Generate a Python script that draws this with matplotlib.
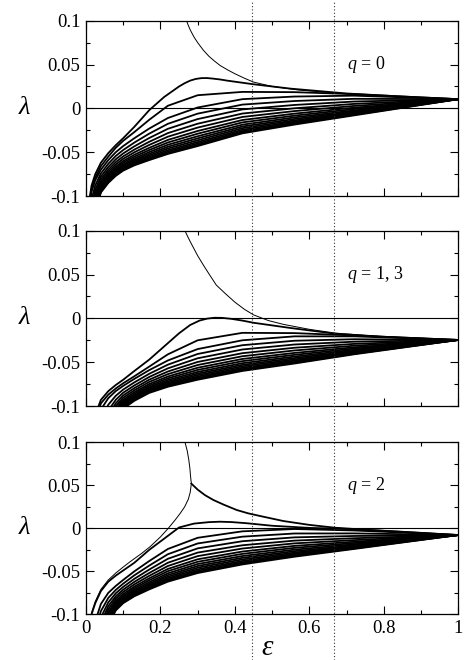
import matplotlib
matplotlib.use('Agg')
import matplotlib.pyplot as plt
import matplotlib.transforms as mtransforms
from matplotlib import rcParams
from matplotlib.lines import Line2D
from matplotlib.ticker import MultipleLocator

# ----- fonts -----
rcParams['font.family'] = ['Liberation Serif', 'DejaVu Serif']
rcParams['mathtext.fontset'] = 'custom'
rcParams['mathtext.rm'] = 'Liberation Serif'
rcParams['mathtext.it'] = 'Liberation Serif:italic'

# ----- data -----
# common epsilon grid for the bundle curves
eps_grid = [0.005, 0.015, 0.025, 0.04, 0.06, 0.08, 0.1, 0.13, 0.17, 0.22, 0.3, 0.42, 0.56, 0.72, 1.0]

# q = 0 : monotone bundle, top to bottom
bundle_q0 = [
    [-0.12, -0.092, -0.079, -0.066, -0.055, -0.045, -0.037, -0.027, -0.013, 0.003, 0.015, 0.0188, 0.0185, 0.0162, 0.0105],
    [-0.125, -0.095, -0.082, -0.070, -0.059, -0.050, -0.043, -0.034, -0.023, -0.011, 0.001, 0.0105, 0.0135, 0.0145, 0.0105],
    [-0.137, -0.1038, -0.0878, -0.0742, -0.0632, -0.0543, -0.0475, -0.039, -0.0288, -0.0176, -0.006, 0.0043, 0.0084, 0.0109, 0.0105],
    [-0.1475, -0.1115, -0.0928, -0.0778, -0.0668, -0.0581, -0.0514, -0.0433, -0.0338, -0.0233, -0.0122, -0.0012, 0.0039, 0.0078, 0.0105],
    [-0.1565, -0.1181, -0.0971, -0.0809, -0.0699, -0.0613, -0.0548, -0.047, -0.0381, -0.0282, -0.0175, -0.0059, 0.0001, 0.0051, 0.0105],
    [-0.164, -0.1236, -0.1007, -0.0835, -0.0725, -0.064, -0.0576, -0.0501, -0.0417, -0.0323, -0.0219, -0.0098, -0.0031, 0.0028, 0.0105],
    [-0.1707, -0.1285, -0.104, -0.0859, -0.0749, -0.0665, -0.0601, -0.0529, -0.045, -0.036, -0.0258, -0.0133, -0.006, 0.0008, 0.0105],
    [-0.176, -0.1324, -0.1065, -0.0877, -0.0767, -0.0684, -0.062, -0.0551, -0.0475, -0.0389, -0.0289, -0.016, -0.0083, -0.0008, 0.0105],
    [-0.1809, -0.136, -0.1088, -0.0894, -0.0784, -0.0701, -0.0639, -0.0571, -0.0498, -0.0415, -0.0318, -0.0186, -0.0103, -0.0023, 0.0105],
    [-0.185, -0.139, -0.1108, -0.0908, -0.0798, -0.0716, -0.0654, -0.0588, -0.0518, -0.0438, -0.0342, -0.0207, -0.0121, -0.0035, 0.0105],
    [-0.1887, -0.1417, -0.1126, -0.0921, -0.0811, -0.0729, -0.0668, -0.0603, -0.0536, -0.0458, -0.0364, -0.0226, -0.0137, -0.0046, 0.0105],
    [-0.1921, -0.1442, -0.1142, -0.0933, -0.0823, -0.0742, -0.0681, -0.0617, -0.0552, -0.0477, -0.0384, -0.0244, -0.0151, -0.0056, 0.0105],
    [-0.1951, -0.1464, -0.1157, -0.0943, -0.0833, -0.0752, -0.0692, -0.063, -0.0567, -0.0493, -0.0401, -0.026, -0.0164, -0.0065, 0.0105],
    [-0.1977, -0.1483, -0.1169, -0.0952, -0.0842, -0.0762, -0.0702, -0.0641, -0.0579, -0.0508, -0.0417, -0.0273, -0.0175, -0.0073, 0.0105],
    [-0.2, -0.15, -0.118, -0.096, -0.085, -0.077, -0.071, -0.065, -0.059, -0.052, -0.043, -0.0285, -0.0185, -0.008, 0.0105],
]
peak_q0_eps = [0.005, 0.015, 0.025, 0.04, 0.06, 0.08, 0.1, 0.13, 0.17, 0.21, 0.25, 0.265, 0.28, 0.295,
               0.31, 0.325, 0.34, 0.36, 0.38, 0.45, 0.55, 0.7, 0.85, 1.0]
peak_q0_lam = [-0.115, -0.088, -0.075, -0.062, -0.051, -0.042, -0.034, -0.021, -0.002, 0.013, 0.025, 0.0287,
               0.0317, 0.0336, 0.0345, 0.0346, 0.034, 0.033, 0.0316, 0.0275, 0.0225, 0.017, 0.0135, 0.0105]
thin_q0_eps = [0.27, 0.275, 0.28, 0.29, 0.30, 0.315, 0.33, 0.345, 0.36, 0.38, 0.40, 0.425, 0.45, 0.5, 0.57,
               0.67, 0.8, 1.0]
thin_q0_lam = [0.1, 0.0945, 0.0895, 0.0815, 0.075, 0.0665, 0.0595, 0.054, 0.049, 0.044, 0.0395, 0.0345,
               0.030, 0.025, 0.021, 0.0175, 0.0138, 0.0105]

# q = 1, 3
bundle_q13 = [
    [-0.19, -0.15, -0.12, -0.097, -0.087, -0.080, -0.074, -0.066, -0.055, -0.041, -0.025, -0.0165, -0.0168, -0.0195, -0.0246],
    [-0.2, -0.16, -0.13, -0.104, -0.091, -0.083, -0.077, -0.069, -0.059, -0.048, -0.035, -0.025, -0.0205, -0.0205, -0.0246],
    [-0.216, -0.1744, -0.1428, -0.1146, -0.0985, -0.0883, -0.0812, -0.073, -0.0632, -0.0528, -0.0406, -0.0306, -0.0255, -0.0238, -0.0246],
    [-0.23, -0.187, -0.154, -0.1238, -0.1051, -0.0929, -0.0848, -0.0765, -0.0668, -0.057, -0.0455, -0.0355, -0.0298, -0.0266, -0.0246],
    [-0.242, -0.1978, -0.1636, -0.1317, -0.1107, -0.0969, -0.0879, -0.0795, -0.0699, -0.0606, -0.0497, -0.0397, -0.0335, -0.0291, -0.0246],
    [-0.252, -0.2068, -0.1716, -0.1383, -0.1154, -0.1002, -0.0905, -0.082, -0.0725, -0.0636, -0.0532, -0.0432, -0.0366, -0.0312, -0.0246],
    [-0.261, -0.2149, -0.1788, -0.1443, -0.1197, -0.1031, -0.0929, -0.0842, -0.0749, -0.0663, -0.0563, -0.0463, -0.0394, -0.033, -0.0246],
    [-0.268, -0.2212, -0.1844, -0.1489, -0.123, -0.1054, -0.0947, -0.086, -0.0767, -0.0684, -0.0588, -0.0488, -0.0416, -0.0344, -0.0246],
    [-0.2745, -0.227, -0.1896, -0.1532, -0.126, -0.1076, -0.0964, -0.0876, -0.0784, -0.0703, -0.0611, -0.0511, -0.0436, -0.0358, -0.0246],
    [-0.28, -0.232, -0.194, -0.1568, -0.1286, -0.1094, -0.0978, -0.089, -0.0798, -0.072, -0.063, -0.053, -0.0453, -0.0369, -0.0246],
    [-0.285, -0.2365, -0.198, -0.1601, -0.1309, -0.111, -0.0991, -0.0902, -0.0811, -0.0735, -0.0647, -0.0547, -0.0468, -0.0379, -0.0246],
    [-0.2895, -0.2405, -0.2016, -0.1631, -0.1331, -0.1125, -0.1003, -0.0914, -0.0823, -0.0748, -0.0663, -0.0563, -0.0482, -0.0388, -0.0246],
    [-0.2935, -0.2441, -0.2048, -0.1657, -0.1349, -0.1139, -0.1013, -0.0924, -0.0833, -0.076, -0.0677, -0.0577, -0.0495, -0.0397, -0.0246],
    [-0.297, -0.2473, -0.2076, -0.168, -0.1366, -0.115, -0.1022, -0.0932, -0.0842, -0.0771, -0.0689, -0.0589, -0.0506, -0.0404, -0.0246],
    [-0.3, -0.25, -0.21, -0.17, -0.138, -0.116, -0.103, -0.094, -0.085, -0.078, -0.070, -0.060, -0.0515, -0.041, -0.0246],
]
peak_q13_eps = [0.005, 0.015, 0.025, 0.04, 0.06, 0.08, 0.1, 0.13, 0.17, 0.21, 0.25, 0.28, 0.305, 0.325,
                0.345, 0.365, 0.39, 0.42, 0.45, 0.5, 0.55, 0.67, 0.8, 1.0]
peak_q13_lam = [-0.17, -0.135, -0.11, -0.093, -0.083, -0.076, -0.070, -0.060, -0.047, -0.032, -0.017, -0.0075,
                -0.0025, -0.0003, 0.0007, 0.0006, -0.0005, -0.0025, -0.005, -0.008, -0.011, -0.0175, -0.021,
                -0.0246]
thin_q13_eps = [0.266, 0.27, 0.275, 0.28, 0.29, 0.3, 0.315, 0.33, 0.35, 0.375, 0.4, 0.425, 0.45, 0.49, 0.53,
                0.6, 0.67, 0.8, 1.0]
thin_q13_lam = [0.1, 0.0962, 0.0918, 0.0876, 0.0795, 0.0715, 0.061, 0.051, 0.038, 0.028, 0.0185, 0.0105,
                0.004, -0.0025, -0.0068, -0.0125, -0.0168, -0.021, -0.0246]

# q = 2
bundle_q2 = [
    [-0.17, -0.13, -0.108, -0.088, -0.075, -0.067, -0.060, -0.050, -0.038, -0.024, -0.011, -0.0035, -0.0008, -0.0025, -0.0078],
    [-0.1844, -0.1428, -0.1187, -0.0963, -0.0809, -0.0716, -0.0643, -0.0546, -0.0433, -0.0301, -0.0176, -0.0097, -0.006, -0.0059, -0.0078],
    [-0.197, -0.154, -0.1281, -0.1036, -0.0861, -0.0755, -0.0681, -0.0587, -0.0479, -0.0354, -0.0233, -0.015, -0.0105, -0.0089, -0.0078],
    [-0.2078, -0.1636, -0.1361, -0.1098, -0.0905, -0.079, -0.0713, -0.0622, -0.0519, -0.04, -0.0282, -0.0197, -0.0143, -0.0115, -0.0078],
    [-0.2168, -0.1716, -0.1428, -0.115, -0.0942, -0.0818, -0.074, -0.0651, -0.0552, -0.0438, -0.0323, -0.0235, -0.0175, -0.0137, -0.0078],
    [-0.2249, -0.1788, -0.1489, -0.1197, -0.0976, -0.0844, -0.0765, -0.0677, -0.0581, -0.0472, -0.036, -0.027, -0.0204, -0.0156, -0.0078],
    [-0.2312, -0.1844, -0.1536, -0.1234, -0.1002, -0.0864, -0.0784, -0.0697, -0.0604, -0.0498, -0.0389, -0.0297, -0.0227, -0.0171, -0.0078],
    [-0.237, -0.1896, -0.1579, -0.1267, -0.1026, -0.0882, -0.0801, -0.0716, -0.0626, -0.0523, -0.0415, -0.0322, -0.0248, -0.0185, -0.0078],
    [-0.242, -0.194, -0.1616, -0.1296, -0.1046, -0.0898, -0.0816, -0.0732, -0.0644, -0.0544, -0.0438, -0.0343, -0.0266, -0.0197, -0.0078],
    [-0.2465, -0.198, -0.1649, -0.1322, -0.1064, -0.0912, -0.0829, -0.0746, -0.066, -0.0563, -0.0458, -0.0362, -0.0282, -0.0208, -0.0078],
    [-0.2505, -0.2016, -0.168, -0.1345, -0.1081, -0.0925, -0.0842, -0.076, -0.0675, -0.058, -0.0477, -0.038, -0.0296, -0.0217, -0.0078],
    [-0.2541, -0.2048, -0.1706, -0.1366, -0.1096, -0.0936, -0.0852, -0.0771, -0.0689, -0.0595, -0.0493, -0.0395, -0.0309, -0.0226, -0.0078],
    [-0.2573, -0.2076, -0.173, -0.1384, -0.1109, -0.0946, -0.0862, -0.0781, -0.07, -0.0609, -0.0508, -0.0408, -0.032, -0.0234, -0.0078],
    [-0.26, -0.21, -0.175, -0.14, -0.112, -0.0955, -0.087, -0.079, -0.071, -0.062, -0.052, -0.042, -0.033, -0.024, -0.0078],
]
second_q2_eps = [0.005, 0.015, 0.025, 0.04, 0.06, 0.08, 0.1, 0.13, 0.17, 0.21, 0.25, 0.29, 0.33, 0.36, 0.39,
                 0.43, 0.5, 0.6, 0.72, 0.85, 1.0]
second_q2_lam = [-0.13, -0.1, -0.087, -0.073, -0.062, -0.055, -0.049, -0.040, -0.025, -0.012, 0.001, 0.0055,
                 0.0072, 0.0077, 0.0073, 0.006, 0.003, 0.0005, -0.001, -0.004, -0.0078]
branch_q2_eps = [0.283, 0.3, 0.32, 0.342, 0.37, 0.405, 0.435, 0.468, 0.53, 0.6, 0.669, 0.8, 1.0]
branch_q2_lam = [0.052, 0.045, 0.0385, 0.033, 0.0275, 0.0213, 0.0175, 0.0143, 0.0085, 0.004, 0.0007, -0.003,
                 -0.0078]
thin_q2_eps = [0.005, 0.015, 0.025, 0.04, 0.06, 0.08, 0.1, 0.118, 0.15, 0.172, 0.2, 0.221, 0.24, 0.253,
               0.265, 0.275, 0.28, 0.283, 0.282, 0.281, 0.279, 0.276, 0.272, 0.266]
thin_q2_lam = [-0.125, -0.098, -0.085, -0.071, -0.060, -0.052, -0.045, -0.039, -0.029, -0.0214, -0.01, 0.0,
               0.01, 0.0174, 0.025, 0.034, 0.042, 0.052, 0.056, 0.06, 0.07, 0.08, 0.09, 0.1]

q_labels = ['$q$ = 0', '$q$ = 1, 3', '$q$ = 2']
dotted_eps = [0.445, 0.667]

y_ticks = [-0.1, -0.05, 0, 0.05, 0.1]
y_ticklabels = ['-0.1', '-0.05', '0', '0.05', '0.1']
x_ticks = [0, 0.2, 0.4, 0.6, 0.8, 1.0]
x_ticklabels = ['0', '0.2', '0.4', '0.6', '0.8', '1']

panels = [
    dict(bundle=bundle_q0, thick=[(peak_q0_eps, peak_q0_lam)], thin=[(thin_q0_eps, thin_q0_lam)]),
    dict(bundle=bundle_q13, thick=[(peak_q13_eps, peak_q13_lam)], thin=[(thin_q13_eps, thin_q13_lam)]),
    dict(bundle=bundle_q2, thick=[(second_q2_eps, second_q2_lam), (branch_q2_eps, branch_q2_lam)],
         thin=[(thin_q2_eps, thin_q2_lam)]),
]

# ----- figure -----
fig = plt.figure(figsize=(4.66, 6.6), dpi=100)
rects = [
    [0.1845, 0.703, 0.799, 0.2656],
    [0.1845, 0.3848, 0.799, 0.2656],
    [0.1845, 0.0692, 0.799, 0.2606],
]
axes = [fig.add_axes(r) for r in rects]

for i, (ax, p) in enumerate(zip(axes, panels)):
    for row in p['bundle']:
        ax.plot(eps_grid, row, color='black', lw=1.3, solid_joinstyle='round')
    for xs, ys in p['thick']:
        ax.plot(xs, ys, color='black', lw=1.3, solid_joinstyle='round')
    for xs, ys in p['thin']:
        ax.plot(xs, ys, color='black', lw=0.7)
    ax.axhline(0, color='black', lw=0.8)

    ax.set_xlim(0, 1)
    ax.set_ylim(-0.1, 0.1)
    ax.set_yticks(y_ticks)
    ax.set_yticklabels(y_ticklabels)
    ax.set_xticks(x_ticks)
    if i == 2:
        ax.set_xticklabels(x_ticklabels)
    else:
        ax.set_xticklabels([])
    ax.xaxis.set_minor_locator(MultipleLocator(0.1))
    ax.yaxis.set_minor_locator(MultipleLocator(0.025))
    ax.tick_params(which='both', direction='in', top=True, right=True, labelsize=13.5, pad=4)
    ax.tick_params(which='major', length=6, width=0.8)
    ax.tick_params(which='minor', length=3, width=0.8)
    for s in ax.spines.values():
        s.set_linewidth(0.9)

    ax.set_ylabel(r'$\lambda$', rotation=0, fontsize=19, va='center', ha='center')
    ax.yaxis.set_label_coords(-0.165, 0.5)
    ax.text(0.70, 0.05, q_labels[i], fontsize=13, ha='left', va='center')

axes[2].set_xlabel(r'$\varepsilon$', fontsize=21)
axes[2].xaxis.set_label_coords(0.487, -0.12)

# dotted guide lines across the whole figure
trans = mtransforms.blended_transform_factory(axes[2].transData, fig.transFigure)
for e in dotted_eps:
    fig.add_artist(Line2D([e, e], [0, 1], transform=trans, color='#333333', lw=0.8,
                          linestyle=(0, (1, 2))))

fig.savefig('out.png', dpi=100)
